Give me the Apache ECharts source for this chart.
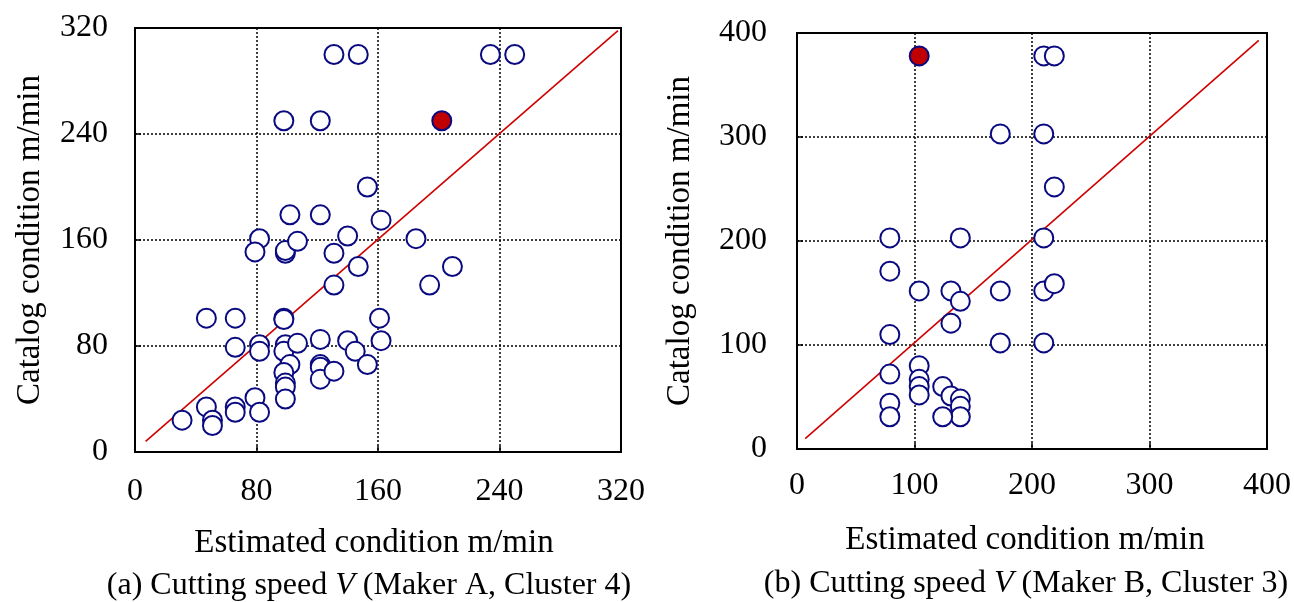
<!DOCTYPE html>
<html><head><meta charset="utf-8">
<script src="https://cdn.jsdelivr.net/npm/echarts@6/dist/echarts.min.js"></script>
<style>html,body{margin:0;padding:0;background:#fff}#c{width:1294px;height:602px}</style>
</head><body><div id="c"></div>
<script>
// Panel (a): Maker A, Cluster 4  [estimated, catalog]
const pointsA = [
 [131,300],[147,300],[234,300],[250,300],
 [98,250],[122,250],
 [153,200],
 [102,179],[122,179],[162,175],[140,163],[185,161],[82,161],[79,151],[99,150],[99,152],[107,159],[131,150],[147,140],[209,140],[131,126],[194,126],
 [47,101],[66,101],[98,101],[98,100],[161,101],
 [66,79],[82,81],[82,76],[99,81],[98,76],[107,82],[122,85],[140,84],[162,84],[145,76],[153,66],[102,66],[98,60],[122,66],[122,64],[122,55],[131,61],[99,52],[99,49],[99,40],[79,41],[47,34],[66,34],[66,30],[82,30],[31,24],[51,24],[51,20]
];
const highlightA = [[202,250]];
const refLineA = [[7,8],[318,318]];
const ticksA = [0,80,160,240,320];

// Panel (b): Maker B, Cluster 3
const pointsB = [
 [210,378],[219,378],
 [173,303],[210,303],
 [219,252],
 [79,203],[139,203],[210,203],
 [79,171],
 [104,152],[131,152],[139,142],[173,152],[210,152],[219,159],
 [131,121],
 [79,110],[173,102],[210,102],
 [79,72],[104,80],[104,67],[104,60],[104,52],
 [124,60],[131,51],[139,48],[139,41],[139,31],[124,31],[79,44],[79,31]
];
const highlightB = [[104,378]];
const refLineB = [[7,10],[393,393]];
const ticksB = [0,100,200,300,400];

const texts = {
  yName: 'Catalog condition m/min',
  xName: 'Estimated condition m/min',
  capA: '(a) Cutting speed {i|V} (Maker A, Cluster 4)',
  capB: '(b) Cutting speed {i|V} (Maker B, Cluster 3)'
};

const FONT = "'Liberation Serif','Times New Roman',serif";
const FS = 32;
const NAVY = '#0a0a80';

function xAxis(idx, max, interval, margin){
  return {
    gridIndex: idx, type:'value', min:0, max:max, interval:interval,
    axisLine:{show:true, lineStyle:{color:'#000', width:2}},
    axisTick:{show:true, inside:true, length:6, lineStyle:{color:'#000', width:1.5}},
    axisLabel:{color:'#000', fontFamily:FONT, fontSize:FS, margin:margin},
    splitLine:{show:true, lineStyle:{color:'#000', width:1.5, type:[2,2]}}
  };
}
function yAxis(idx, max, interval, gap, margin){
  return {
    gridIndex: idx, type:'value', min:0, max:max, interval:interval,
    name: texts.yName, nameLocation:'middle', nameGap:gap,
    nameTextStyle:{color:'#000', fontFamily:FONT, fontSize:33},
    axisLine:{show:true, lineStyle:{color:'#000', width:2}},
    axisTick:{show:true, inside:true, length:6, lineStyle:{color:'#000', width:1.5}},
    axisLabel:{color:'#000', fontFamily:FONT, fontSize:FS, margin:margin},
    splitLine:{show:true, lineStyle:{color:'#000', width:1.5, type:[2,2]}}
  };
}
function scatter(idx, data, fill){
  return {
    type:'scatter', xAxisIndex:idx, yAxisIndex:idx, data:data, symbol:'circle', symbolSize:19,
    itemStyle:{color:fill, borderColor:NAVY, borderWidth:2, opacity:1}, z:5,
    emphasis:{disabled:true}
  };
}
function refLine(idx, data){
  return {
    type:'line', xAxisIndex:idx, yAxisIndex:idx, data:data, symbol:'none',
    lineStyle:{color:'#d00000', width:1.6}, z:3, silent:true
  };
}
function txt(x, y, s, fs){
  return {
    type:'text', x:x, y:y,
    style:{text:s, fill:'#000', font: fs + 'px ' + FONT, textAlign:'center', textVerticalAlign:'middle',
      rich:{i:{fontStyle:'italic', fontFamily:FONT, fontSize:fs, fill:'#000'}}}
  };
}

const chart = echarts.init(document.getElementById('c'), null, {renderer:'canvas'});
chart.setOption({
  animation:false,
  backgroundColor:'#fff',
  grid:[
    {left:135, top:28, width:486, height:424, show:true, borderColor:'#000', borderWidth:2, backgroundColor:'transparent'},
    {left:797, top:33, width:476, height:416, show:true, borderColor:'#000', borderWidth:2, backgroundColor:'transparent'}
  ],
  xAxis:[ xAxis(0, ticksA[ticksA.length-1], ticksA[1]-ticksA[0], 24), xAxis(1, ticksB[ticksB.length-1], ticksB[1]-ticksB[0], 21) ],
  yAxis:[ yAxis(0, ticksA[ticksA.length-1], ticksA[1]-ticksA[0], 88, 27), yAxis(1, ticksB[ticksB.length-1], ticksB[1]-ticksB[0], 100, 30) ],
  series:[
    refLine(0, refLineA), scatter(0, pointsA, '#fff'), scatter(0, highlightA, '#c00000'),
    refLine(1, refLineB), scatter(1, pointsB, '#fff'), scatter(1, highlightB, '#c00000')
  ],
  graphic:[
    txt(374, 543, texts.xName, 33),
    txt(369, 586, texts.capA, 32),
    txt(1025, 540, texts.xName, 33),
    txt(1026, 584, texts.capB, 32)
  ]
});
</script></body></html>
